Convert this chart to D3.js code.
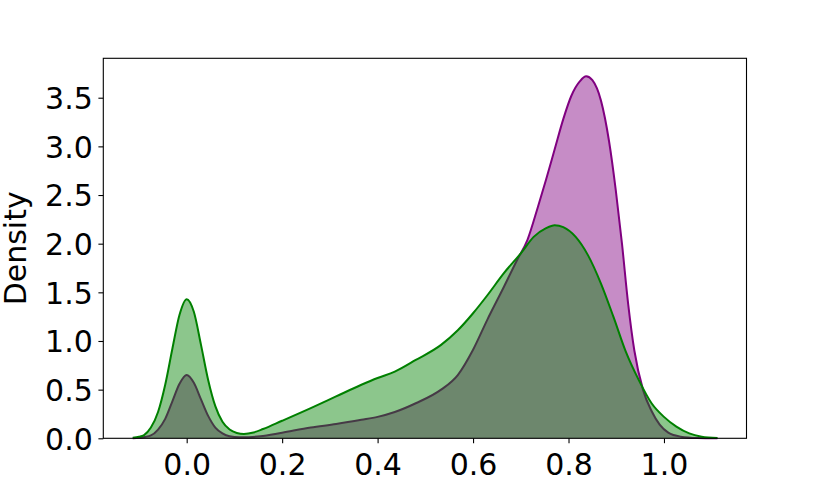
<!DOCTYPE html>
<html>
<head>
<meta charset="utf-8">
<script src="https://cdn.jsdelivr.net/npm/d3@7"></script>
<style>
  html, body { margin: 0; padding: 0; background: #fff; }
  svg { display: block; font-family: "DejaVu Sans", sans-serif; }
</style>
</head>
<body>
<svg id="chart" width="830" height="493"></svg>
<script>
// ---- data ----
const purpleX = [-0.113,-0.1,-0.075,-0.06,-0.045,-0.03,-0.015,0,0.015,0.03,0.045,0.06,0.075,0.09,0.11,0.13,0.154,0.2,0.26,0.313,0.366,0.40,0.436,0.48,0.533,0.568,0.6,0.63,0.665,0.692,0.714,0.736,0.753,0.771,0.789,0.806,0.824,0.837,0.85,0.868,0.885,0.899,0.912,0.925,0.938,0.956,0.974,0.991,1.009,1.035,1.07,1.112];
const purpleY = [0.0,0.005,0.03,0.09,0.2,0.38,0.56,0.65,0.57,0.40,0.23,0.11,0.05,0.02,0.01,0.012,0.02,0.058,0.11,0.147,0.19,0.22,0.27,0.36,0.50,0.65,0.91,1.22,1.56,1.83,2.04,2.38,2.66,2.97,3.28,3.52,3.67,3.72,3.68,3.47,3.05,2.55,2.0,1.38,0.9,0.5,0.28,0.14,0.058,0.017,0.003,0.0];

const greenX = [-0.113,-0.1,-0.09,-0.075,-0.06,-0.045,-0.03,-0.015,0,0.015,0.03,0.045,0.06,0.075,0.09,0.105,0.12,0.14,0.16,0.2,0.26,0.313,0.366,0.40,0.436,0.48,0.533,0.568,0.6,0.63,0.665,0.70,0.727,0.753,0.771,0.789,0.815,0.841,0.868,0.894,0.92,0.947,0.974,1.0,1.026,1.053,1.079,1.112];
const greenY = [0.005,0.015,0.03,0.11,0.27,0.55,0.92,1.27,1.43,1.30,0.96,0.60,0.33,0.17,0.09,0.055,0.045,0.06,0.095,0.18,0.31,0.43,0.55,0.62,0.685,0.805,0.96,1.11,1.285,1.47,1.70,1.90,2.07,2.16,2.19,2.17,2.07,1.88,1.59,1.25,0.89,0.60,0.36,0.22,0.12,0.05,0.017,0.003];

const xTicks = [0.0, 0.2, 0.4, 0.6, 0.8, 1.0];
const yTicks = [0.0, 0.5, 1.0, 1.5, 2.0, 2.5, 3.0, 3.5];
const yLabel = "Density";

// ---- layout ----
const L = 103.3, R = 746.5, T = 58.3, B = 438.3;
const svg = d3.select("#chart");

const x = d3.scaleLinear().domain([-0.1747, 1.1729]).range([L, R]);
const y = d3.scaleLinear().domain([0, 3.905]).range([B, T]);

function series(xs, ys) { return xs.map((v, i) => [v, ys[i]]); }

const area = d3.area().x(d => x(d[0])).y0(y(0)).y1(d => y(d[1])).curve(d3.curveMonotoneX);
const line = d3.line().x(d => x(d[0])).y(d => y(d[1])).curve(d3.curveMonotoneX);

const plot = svg.append("g");
const layers = [
  { data: series(purpleX, purpleY), color: "purple" },
  { data: series(greenX, greenY), color: "green" }
];
layers.forEach(s => {
  plot.append("path").datum(s.data).attr("d", area)
    .attr("fill", s.color).attr("fill-opacity", 0.45).attr("stroke", "none");
  plot.append("path").datum(s.data).attr("d", line)
    .attr("fill", "none").attr("stroke", s.color).attr("stroke-width", 2);
});

// ---- axes ----
const xAxis = d3.axisBottom(x).tickValues(xTicks).tickFormat(d3.format(".1f")).tickSize(4.9).tickPadding(4.9);
const yAxis = d3.axisLeft(y).tickValues(yTicks).tickFormat(d3.format(".1f")).tickSize(4.9).tickPadding(4.9);

const gx = svg.append("g").attr("transform", `translate(0,${B})`).call(xAxis);
const gy = svg.append("g").attr("transform", `translate(${L},0)`).call(yAxis);
[gx, gy].forEach(g => {
  g.select(".domain").remove();
  g.selectAll(".tick line").attr("stroke", "#000").attr("stroke-width", 1.1);
  g.selectAll(".tick text").attr("fill", "#000")
    .style("font-family", "'DejaVu Sans', sans-serif").style("font-size", "30px");
});
gx.selectAll(".tick text").attr("dy", null).attr("y", 37);
gy.selectAll(".tick text").attr("dy", "0.36em").attr("x", -10.5);

// frame
svg.append("rect").attr("x", L).attr("y", T).attr("width", R - L).attr("height", B - T)
  .attr("fill", "none").attr("stroke", "#000").attr("stroke-width", 1.1);

// y label
svg.append("text")
  .attr("transform", `translate(26,${(T + B) / 2}) rotate(-90)`)
  .attr("text-anchor", "middle")
  .style("font-size", "30px").attr("fill", "#000")
  .text(yLabel);
</script>
</body>
</html>
